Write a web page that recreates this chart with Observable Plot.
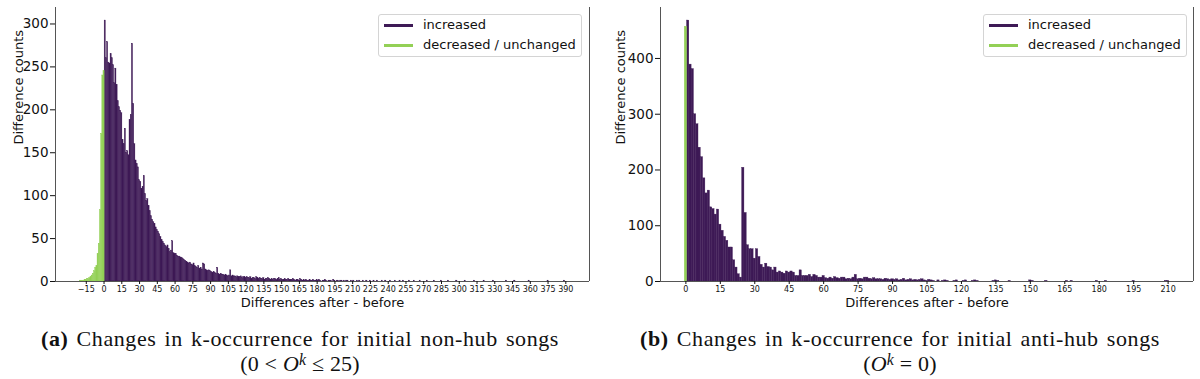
<!DOCTYPE html>
<html><head><meta charset="utf-8">
<script src="https://cdn.jsdelivr.net/npm/d3@7"></script>
<script src="https://cdn.jsdelivr.net/npm/@observablehq/plot@0.6"></script>
<style>
body{margin:0;background:#fff;}
#wrap{position:relative;width:1200px;height:379px;overflow:hidden;font-family:"DejaVu Sans",sans-serif;}
.panel{position:absolute;top:0;width:600px;height:379px;}
.panel svg{position:absolute;left:0;top:0;}
.legend{position:absolute;top:14px;width:202px;height:41px;border:1px solid #d4d4d4;border-radius:3px;background:rgba(255,255,255,0.85);font-size:13px;color:#111;}
.legend .sw{position:absolute;left:5px;width:29px;height:3px;}
.legend .lb{position:absolute;left:44px;line-height:16px;white-space:nowrap;}
.caption{position:absolute;left:0;width:600px;height:25px;text-align:center;font-family:"Liberation Serif",serif;font-size:22px;letter-spacing:0.6px;word-spacing:2px;color:#111;line-height:25px;white-space:nowrap;}
.caption.math{letter-spacing:0.2px;word-spacing:0;}
.caption .sup{position:relative;top:-0.35em;font-size:72%;font-style:italic;}
</style></head>
<body><div id="wrap"></div>
<script>
// ---- data ----
const seriesNames = ["increased", "decreased / unchanged"];
const seriesColors = ["#3e1a56", "#93d056"];

// Panel (a): non-hub songs, differences -20..0 (decreased / unchanged)
const leftDecreasedStart = -20;
const leftDecreased = [1,1,1,1,2,2,3,3,4,5,7,9,12,16,18,32,44,83,172,240,245];
// Panel (a): differences 1..389 (increased)
const leftIncreasedStart = 1;
const leftIncreased = [
304,260,279,255,254,265,260,252,231,248,
229,210,203,199,196,165,160,178,150,152,
147,188,194,277,207,160,141,137,133,118,
116,108,110,123,102,94,96,88,82,76,
72,69,67,63,60,58,55,52,48,46,
44,42,40,42,38,34,36,47,33,32,
32,30,29,29,28,27,26,25,24,23,
22,21,22,20,19,21,18,17,16,18,
15,16,14,21,20,14,13,12,13,12,
11,10,11,10,9,16,9,8,9,8,
8,7,8,7,6,7,13,6,7,6,
6,5,6,5,5,6,4,5,5,4,
5,4,4,5,3,4,4,3,5,4,
3,4,3,3,4,2,3,3,4,3,
2,3,2,3,3,2,3,4,2,3,
2,2,3,2,2,3,2,2,2,3,
2,1,2,2,1,3,2,1,2,1,
2,1,1,2,1,1,2,1,1,2,
1,2,1,0,1,1,2,1,0,1,
1,1,0,2,1,0,1,1,0,1,
1,0,1,0,1,1,0,0,1,0,
1,0,0,1,0,1,0,0,1,0,
0,1,0,0,1,0,0,1,0,0,
1,0,0,0,1,0,0,1,0,0,
0,1,0,0,0,1,0,0,0,1,
0,0,1,0,0,0,0,1,0,0,
0,1,0,0,0,0,1,0,0,0,
0,0,1,0,0,0,0,0,1,0,
0,0,0,0,1,0,0,0,0,0,
1,0,0,0,0,0,0,1,0,0,
0,0,0,0,1,0,0,0,0,0,
0,0,1,0,0,0,0,0,0,0,
1,0,0,0,0,0,0,0,1,0,
0,0,0,0,0,0,0,0,0,1,
0,0,0,0,0,0,1,0,0,0,
0,0,0,0,0,0,0,0,1,0,
0,0,0,0,0,0,0,0,0,0,
0,0,0,0,1,0,0,0,0,0,
0,0,0,0,0,0,0,0,1
];

// Panel (b): anti-hub songs, difference 0 (unchanged)
const rightDecreasedStart = 0;
const rightDecreased = [457];
// Panel (b): differences 1..210 (increased)
const rightIncreasedStart = 1;
const rightIncreased = [
468,389,381,300,282,240,223,185,158,163,
133,130,120,129,102,91,80,73,61,61,
38,25,13,7,204,123,65,58,58,41,
58,44,30,25,32,26,25,20,25,16,
18,16,14,18,16,18,16,10,10,20,
10,10,10,12,8,12,10,7,7,10,
6,5,7,5,8,6,5,7,7,4,
5,4,7,12,4,5,4,7,7,5,
4,6,4,4,4,3,5,4,3,4,
3,4,2,3,5,2,3,4,2,3,
2,3,4,2,1,3,2,1,0,2,
0,1,2,1,0,0,1,2,0,0,
1,2,0,0,1,2,1,0,0,0,
0,0,0,1,2,1,0,0,0,0,
1,0,0,0,0,0,0,0,0,2,
1,0,0,0,0,0,1,0,0,0,
0,0,0,0,0,1,0,1,0,0,
0,0,0,0,0,0,0,0,1,0,
0,0,1,0,0,0,0,0,0,0,
0,0,0,0,1,0,0,0,0,0,
0,0,0,0,0,0,0,0,1,1
];

const leftXTicks = d3.range(-15, 391, 15);
const rightXTicks = d3.range(0, 211, 15);
const leftYTicks = [0,50,100,150,200,250,300];
const rightYTicks = [0,100,200,300,400];
const xLabel = "Differences after - before";
const yLabel = "Difference counts";

// ---- helpers ----
function bins(start, counts, status) {
  return counts.map((c, i) => ({v: start + i, count: c, status}));
}

function histogram(cfg) {
  const data = [...bins(cfg.incStart, cfg.inc, seriesNames[0]), ...bins(cfg.decStart, cfg.dec, seriesNames[1])];
  const vmin = d3.min(data, d => d.v) - 0.5, vmax = d3.max(data, d => d.v) + 0.5;
  const pad = (vmax - vmin) * 0.05;
  const xDomain = [vmin - pad, vmax + pad];
  const yDomain = [0, d3.max(data, d => d.count) * 1.05];
  return Plot.plot({
    width: 600, height: 310,
    marginTop: 7, marginBottom: 29, marginLeft: cfg.marginLeft, marginRight: cfg.marginRight,
    style: {fontFamily: "DejaVu Sans, sans-serif", color: "#111", background: "transparent"},
    x: {domain: xDomain},
    y: {domain: yDomain},
    color: {domain: seriesNames, range: seriesColors},
    marks: [
      Plot.rect(data.filter(d => d.count > 0), {x1: d => d.v - 0.5, x2: d => d.v + 0.5, y1: 0, y2: "count", fill: "status", stroke: "status", strokeWidth: 0.35}),
      Plot.ruleY([0], {stroke: "#555", strokeWidth: 1}),
      Plot.ruleX(xDomain, {stroke: "#555", strokeWidth: 1}),
      Plot.axisX({ticks: cfg.xTicks, tickSize: 3, tickPadding: 2, fontSize: 8,
        label: null, tickFormat: d => String(d).replace("-", "\u2212")}),
      Plot.axisY({ticks: cfg.yTicks, tickSize: 5, tickPadding: 2, fontSize: 13.5, label: null}),
      Plot.text([yLabel], {text: d => d, frameAnchor: "left", rotate: -90, dx: cfg.yLabelDx, fontSize: 13, fill: "#111"}),
      Plot.text([xLabel], {text: d => d, frameAnchor: "bottom", dy: 25, fontSize: 13, fill: "#111"})
    ]
  });
}

function legendBox(left) {
  const box = document.createElement("div");
  box.className = "legend";
  box.style.left = left + "px";
  seriesNames.forEach((name, i) => {
    const sw = document.createElement("div");
    sw.className = "sw";
    sw.style.top = (9 + i * 20) + "px";
    sw.style.background = seriesColors[i];
    const lb = document.createElement("div");
    lb.className = "lb";
    lb.style.top = (2 + i * 20) + "px";
    lb.textContent = name;
    box.appendChild(sw); box.appendChild(lb);
  });
  return box;
}

function panel(left, cfg, captionHTML1, captionHTML2) {
  const p = document.createElement("div");
  p.className = "panel";
  p.style.left = left + "px";
  p.appendChild(histogram(cfg));
  p.appendChild(legendBox(cfg.legendLeft));
  const c1 = document.createElement("div");
  c1.className = "caption"; c1.style.top = "326px"; c1.innerHTML = captionHTML1;
  const c2 = document.createElement("div");
  c2.className = "caption math"; c2.style.top = "351px"; c2.innerHTML = captionHTML2;
  p.appendChild(c1); p.appendChild(c2);
  return p;
}

const wrap = document.getElementById("wrap");
wrap.appendChild(panel(0, {
  decStart: leftDecreasedStart, dec: leftDecreased, incStart: leftIncreasedStart, inc: leftIncreased,
  xTicks: leftXTicks, yTicks: leftYTicks, marginLeft: 55, marginRight: 11, yLabelDx: -37, legendLeft: 378
}, "<b>(a)</b> Changes in k-occurrence for initial non-hub songs",
   "(0 &lt; <i>O</i><span class='sup'>k</span> \u2264 25)"));
wrap.appendChild(panel(600, {
  decStart: rightDecreasedStart, dec: rightDecreased, incStart: rightIncreasedStart, inc: rightIncreased,
  xTicks: rightXTicks, yTicks: rightYTicks, marginLeft: 60, marginRight: 7, yLabelDx: -40, legendLeft: 383
}, "<b>(b)</b> Changes in k-occurrence for initial anti-hub songs",
   "(<i>O</i><span class='sup'>k</span> = 0)"));
</script></body></html>
